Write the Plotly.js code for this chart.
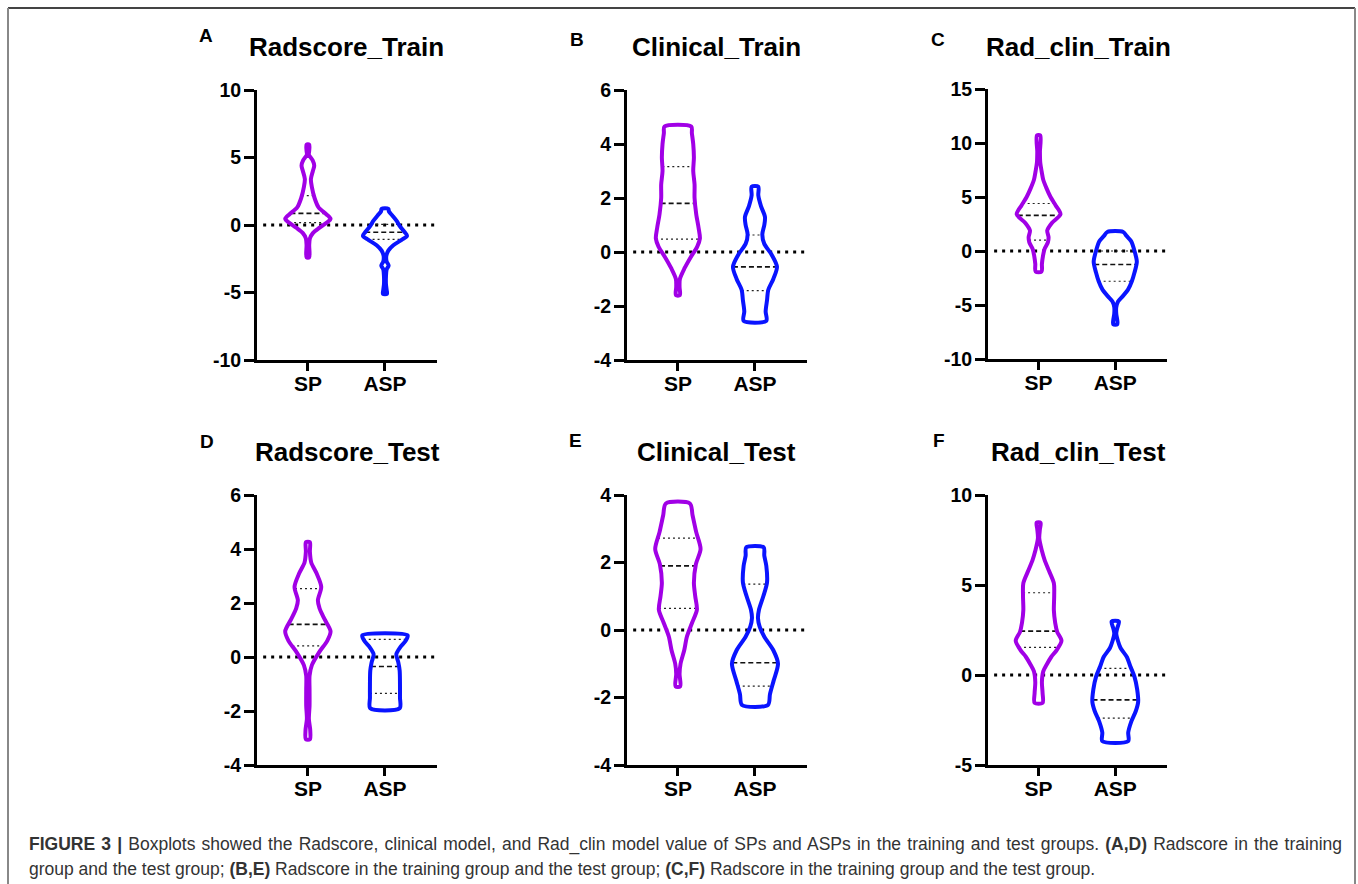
<!DOCTYPE html>
<html>
<head>
<meta charset="utf-8">
<script src="https://cdn.plot.ly/plotly-3.0.1.min.js"></script>
<style>html,body{margin:0;padding:0;background:#fff;}#chart{width:1358px;height:884px;}</style>
</head>
<body>
<div id="chart"></div>
<script>
// ---------------- data ----------------
var CATEGORIES = ['SP', 'ASP'];
var PANEL_LETTERS = ['A', 'B', 'C', 'D', 'E', 'F'];
var PANEL_TITLES = ['Radscore_Train', 'Clinical_Train', 'Rad_clin_Train', 'Radscore_Test', 'Clinical_Test', 'Rad_clin_Test'];

// y-axis ticks per panel
var Y_TICKS_A = [-10, -5, 0, 5, 10];
var Y_TICKS_B = [-4, -2, 0, 2, 4, 6];
var Y_TICKS_C = [-10, -5, 0, 5, 10, 15];
var Y_TICKS_D = [-4, -2, 0, 2, 4, 6];
var Y_TICKS_E = [-4, -2, 0, 2, 4];
var Y_TICKS_F = [-5, 0, 5, 10];

// violin profiles: value levels (bottom -> top) and relative density (half-width)
var A_SP_y = [-2.4, -1.5, -1.0, -0.6, -0.2, 0.2, 0.45, 0.8, 1.3, 2.0, 2.8, 3.4, 4.0, 4.4, 4.8, 5.2, 5.5, 5.95];
var A_SP_d = [4, 4, 6, 15, 35, 58, 68, 55, 32, 20, 12, 9, 15, 19, 14, 3, 4, 4];
var A_ASP_y = [-5.1, -4.8, -4.4, -3.8, -3.3, -3.0, -2.7, -2.3, -1.9, -1.5, -1.1, -0.8, -0.5, -0.1, 0.3, 0.7, 1.0, 1.2];
var A_ASP_d = [6, 5, 3, 3, 5, 11, 5, 4, 10, 25, 50, 66, 58, 45, 35, 22, 12, 10];

var B_SP_y = [-1.6, -1.3, -1.0, -0.6, -0.2, 0.2, 0.5, 0.9, 1.4, 2.0, 2.5, 3.0, 3.5, 4.0, 4.4, 4.65];
var B_SP_d = [6, 5, 6, 20, 38, 58, 66, 62, 55, 50, 50, 46, 48, 46, 42, 40];
var B_ASP_y = [-2.55, -2.2, -1.8, -1.4, -1.0, -0.55, -0.1, 0.3, 0.65, 1.0, 1.3, 1.7, 2.1, 2.42];
var B_ASP_d = [34, 32, 36, 40, 55, 66, 50, 28, 22, 28, 30, 18, 10, 10];

var C_SP_y = [-1.9, -1.2, -0.5, 0.2, 0.8, 1.3, 1.9, 2.6, 3.4, 4.2, 5.0, 5.8, 6.6, 7.4, 8.2, 9.2, 10.7];
var C_SP_d = [9, 10, 13, 18, 28, 30, 26, 40, 66, 52, 36, 24, 14, 9, 5, 4, 5];
var C_ASP_y = [-6.8, -6.4, -5.8, -5.2, -4.7, -4.2, -3.6, -2.8, -2.0, -1.0, 0.0, 0.9, 1.4, 1.76];
var C_ASP_d = [6, 6, 3, 3, 8, 22, 38, 50, 58, 65, 58, 48, 34, 24];

var D_SP_y = [-3.05, -2.7, -2.3, -1.8, -1.2, -0.7, -0.3, 0.2, 0.6, 0.95, 1.4, 1.8, 2.1, 2.6, 3.1, 3.5, 3.9, 4.25];
var D_SP_d = [6, 7, 3, 5, 5, 5, 12, 35, 58, 68, 50, 35, 30, 40, 26, 10, 6, 6];
var D_ASP_y = [-1.9, -1.5, -1.0, -0.5, -0.2, 0.1, 0.35, 0.6, 0.8];
var D_ASP_d = [44, 45, 45, 44, 40, 34, 45, 62, 68];

var E_SP_y = [-1.67, -1.3, -1.0, -0.6, -0.2, 0.2, 0.6, 1.0, 1.4, 1.95, 2.4, 2.9, 3.4, 3.75];
var E_SP_d = [7, 5, 8, 19, 27, 42, 57, 52, 48, 54, 68, 55, 44, 36];
var E_ASP_y = [-2.22, -1.9, -1.5, -1.0, -0.6, -0.2, 0.1, 0.35, 0.6, 1.0, 1.4, 1.9, 2.2, 2.45];
var E_ASP_d = [39, 45, 56, 69, 55, 28, 14, 9, 12, 25, 36, 34, 28, 26];

var F_SP_y = [-1.55, -1.0, -0.4, 0.2, 0.6, 1.0, 1.4, 1.9, 2.4, 2.9, 3.6, 4.4, 5.1, 5.8, 6.4, 6.9, 7.6, 8.1, 8.46];
var F_SP_d = [12, 12, 10, 14, 25, 38, 55, 69, 56, 50, 46, 47, 46, 31, 18, 10, 2, 4, 6];
var F_ASP_y = [-3.67, -3.2, -2.6, -2.0, -1.5, -0.8, -0.1, 0.5, 1.0, 1.5, 1.9, 2.3, 2.6, 2.97];
var F_ASP_d = [39, 39, 48, 62, 69, 66, 58, 45, 35, 16, 8, 3, 6, 11];

// median and quartiles [Q1, median, Q3]
var A_SP_q = [0.17, 0.86, 2.17];   var A_ASP_q = [-1.06, -0.54, 0.05];
var B_SP_q = [0.48, 1.8, 3.16];    var B_ASP_q = [-1.43, -0.55, 0.63];
var C_SP_q = [1.0, 3.3, 4.4];      var C_ASP_q = [-2.8, -1.25, 0.0];
var D_SP_q = [0.41, 1.21, 2.53];   var D_ASP_q = [-1.35, -0.35, 0.65];
var E_SP_q = [0.64, 1.9, 2.72];    var E_ASP_q = [-1.66, -0.97, 1.36];
var F_SP_q = [1.54, 2.44, 4.57];   var F_ASP_q = [-2.4, -1.38, 0.37];

var CAPTION_1 = '<b>FIGURE 3 |</b> Boxplots showed the Radscore, clinical model, and Rad_clin model value of SPs and ASPs in the training and test groups. <b>(A,D)</b> Radscore in the training';
var CAPTION_2 = 'group and the test group; <b>(B,E)</b> Radscore in the training group and the test group; <b>(C,F)</b> Radscore in the training group and the test group.';

// ---------------- styling / layout ----------------
var W = 1358, H = 884;
var COLORS = ['#A100E6', '#0A14FF'];
var DENS_SCALE = 1 / 231;           // density unit -> category units
var X_RANGE = [-0.66, 1.675];
var FONT = 'Arial, "Liberation Sans", Helvetica, sans-serif';
var CAP_FONT = '"Liberation Sans", Arial, sans-serif';

var panels = [
  {ticks: Y_TICKS_A, sp: [A_SP_y, A_SP_d, A_SP_q], asp: [A_ASP_y, A_ASP_d, A_ASP_q], px: [257, 437], py: [90, 360]},
  {ticks: Y_TICKS_B, sp: [B_SP_y, B_SP_d, B_SP_q], asp: [B_ASP_y, B_ASP_d, B_ASP_q], px: [627, 807], py: [90, 360]},
  {ticks: Y_TICKS_C, sp: [C_SP_y, C_SP_d, C_SP_q], asp: [C_ASP_y, C_ASP_d, C_ASP_q], px: [988, 1167], py: [89, 359]},
  {ticks: Y_TICKS_D, sp: [D_SP_y, D_SP_d, D_SP_q], asp: [D_ASP_y, D_ASP_d, D_ASP_q], px: [257, 437], py: [495, 765]},
  {ticks: Y_TICKS_E, sp: [E_SP_y, E_SP_d, E_SP_q], asp: [E_ASP_y, E_ASP_d, E_ASP_q], px: [627, 807], py: [495, 765]},
  {ticks: Y_TICKS_F, sp: [F_SP_y, F_SP_d, F_SP_q], asp: [F_ASP_y, F_ASP_d, F_ASP_q], px: [988, 1167], py: [495, 765]}
];
var titlePos = [[346, 47], [716, 47], [1078, 47], [347, 452], [716, 452], [1078, 452]];
var letterPos = [[206, 36], [577, 40], [938, 40], [207, 441], [575, 440], [939, 440]];

function interp(ys, ds, v) {
  if (v <= ys[0]) return ds[0];
  for (var i = 1; i < ys.length; i++) {
    if (v <= ys[i]) {
      var t = (v - ys[i - 1]) / (ys[i] - ys[i - 1]);
      return ds[i - 1] + t * (ds[i] - ds[i - 1]);
    }
  }
  return ds[ds.length - 1];
}

var traces = [];
var layout = {
  width: W, height: H,
  margin: {l: 0, r: 0, t: 0, b: 0},
  paper_bgcolor: '#ffffff', plot_bgcolor: 'rgba(0,0,0,0)',
  showlegend: false,
  annotations: [], shapes: []
};

panels.forEach(function (p, k) {
  var sfx = k === 0 ? '' : String(k + 1);
  var xa = 'x' + sfx, ya = 'y' + sfx;
  var ymin = p.ticks[0], ymax = p.ticks[p.ticks.length - 1];

  layout['xaxis' + sfx] = {
    domain: [p.px[0] / W, p.px[1] / W], anchor: ya,
    range: X_RANGE, showgrid: false, zeroline: false,
    showline: true, linewidth: 3, linecolor: '#000',
    ticks: 'outside', ticklen: 8, tickwidth: 3, tickcolor: '#000',
    ticklabelstandoff: -5,
    tickvals: [0, 1], ticktext: CATEGORIES,
    tickfont: {family: FONT, size: 21, color: '#000', weight: 'bold'},
    fixedrange: true
  };
  layout['yaxis' + sfx] = {
    domain: [1 - p.py[1] / H, 1 - p.py[0] / H], anchor: xa,
    range: [ymin, ymax], showgrid: false, zeroline: false,
    showline: true, linewidth: 3, linecolor: '#000',
    ticks: 'outside', ticklen: 10, tickwidth: 3, tickcolor: '#000',
    ticklabelstandoff: -1,
    tickvals: p.ticks, ticktext: p.ticks.map(function (t) { return String(t); }),
    tickfont: {family: FONT, size: 19.5, color: '#000', weight: 'bold'},
    fixedrange: true
  };

  // zero reference line
  traces.push({
    type: 'scatter', mode: 'lines', xaxis: xa, yaxis: ya,
    x: [X_RANGE[0] + 0.08, X_RANGE[1]], y: [0, 0],
    line: {color: '#000', width: 3, dash: '3px,5px'}, hoverinfo: 'skip'
  });

  [p.sp, p.asp].forEach(function (g, ci) {
    var ys = g[0], ds = g[1], q = g[2];
    var xs = [], yy = [];
    for (var i = 0; i < ys.length; i++) { xs.push(ci + ds[i] * DENS_SCALE); yy.push(ys[i]); }
    for (var j = ys.length - 1; j >= 0; j--) { xs.push(ci - ds[j] * DENS_SCALE); yy.push(ys[j]); }
    xs.push(xs[0]); yy.push(yy[0]);

    q.forEach(function (v, qi) {
      var hw = interp(ys, ds, v) * DENS_SCALE;
      traces.push({
        type: 'scatter', mode: 'lines', xaxis: xa, yaxis: ya,
        x: [ci - hw, ci + hw], y: [v, v],
        line: qi === 1 ? {color: '#111', width: 1.6, dash: '5px,3px'} : {color: '#222', width: 1.2, dash: '2px,3px'},
        hoverinfo: 'skip'
      });
    });

    traces.push({
      type: 'scatter', mode: 'lines', xaxis: xa, yaxis: ya,
      x: xs, y: yy,
      line: {color: COLORS[ci], width: 4, shape: 'spline', smoothing: 0.8},
      hoverinfo: 'skip'
    });
  });

  layout.annotations.push({
    xref: 'paper', yref: 'paper', x: titlePos[k][0] / W, y: 1 - titlePos[k][1] / H,
    xanchor: 'center', yanchor: 'middle', showarrow: false,
    text: '<b>' + PANEL_TITLES[k] + '</b>',
    font: {family: FONT, size: 26, color: '#000'}
  });
  layout.annotations.push({
    xref: 'paper', yref: 'paper', x: letterPos[k][0] / W, y: 1 - letterPos[k][1] / H,
    xanchor: 'center', yanchor: 'middle', showarrow: false,
    text: '<b>' + PANEL_LETTERS[k] + '</b>',
    font: {family: FONT, size: 19, color: '#000'}
  });
});

// caption (line 1 is justified to the right margin)
var capIndex = layout.annotations.length;
[[CAPTION_1, 844], [CAPTION_2, 869]].forEach(function (c) {
  layout.annotations.push({
    xref: 'paper', yref: 'paper', x: 27 / W, y: 1 - c[1] / H,
    xanchor: 'left', yanchor: 'middle', showarrow: false, align: 'left',
    text: c[0], font: {family: CAP_FONT, size: 17.5, color: '#333'}
  });
});

// outer frame
layout.shapes.push({type: 'line', xref: 'paper', yref: 'paper', x0: 8 / W, x1: 1355 / W, y0: 1 - 8 / H, y1: 1 - 8 / H, line: {color: '#444', width: 2}});
layout.shapes.push({type: 'line', xref: 'paper', yref: 'paper', x0: 8 / W, x1: 8 / W, y0: 1 - 8 / H, y1: 0, line: {color: '#888', width: 2}});
layout.shapes.push({type: 'line', xref: 'paper', yref: 'paper', x0: 1355 / W, x1: 1355 / W, y0: 1 - 8 / H, y1: 0, line: {color: '#888', width: 2}});

var gd = document.getElementById('chart');
Plotly.newPlot(gd, traces, layout, {staticPlot: true, displayModeBar: false}).then(function () {
  var el = gd.querySelector('.annotation[data-index="' + capIndex + '"] text.annotation-text');
  if (!el) return;
  var b0 = el.getBBox();
  var target = 1340 - 27;
  var nSpaces = CAPTION_1.replace(/<[^>]+>/g, '').split(' ').length - 1;
  var extra = (target - b0.width) / nSpaces;
  el.style.wordSpacing = extra + 'px';
  var b1 = el.getBBox();
  el.setAttribute('transform', 'translate(' + (b0.x - b1.x) + ',0)');
});
</script>
</body>
</html>
